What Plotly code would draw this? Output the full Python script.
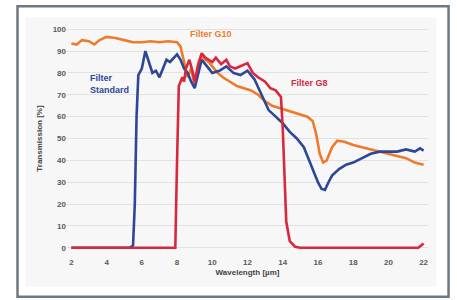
import plotly.graph_objects as go

# ---- data ----
g10_x = [2.0, 2.3, 2.6, 3.0, 3.3, 3.6, 4.0, 4.5, 5.0, 5.5, 6.0, 6.5, 7.0, 7.5, 8.0, 8.2, 8.4, 8.6, 8.8,
         9.0, 9.2, 9.4, 9.6, 9.8, 10.0, 10.3, 10.6, 11.0, 11.4, 11.8, 12.2, 12.6, 13.0, 13.4, 13.8,
         14.2, 14.6, 15.0, 15.4, 15.7, 15.9, 16.1, 16.3, 16.5, 16.8, 17.1, 17.5, 18.0, 18.5, 19.0,
         19.5, 20.0, 20.5, 21.0, 21.5, 22.0]
g10_y = [93.5, 93, 95, 94.5, 93, 95, 96.5, 96, 95, 94, 94, 94.5, 94, 94.5, 94, 92, 85, 78, 82,
         74, 82, 88, 86, 85, 83, 80, 78, 76, 74, 73, 72, 70, 67, 65, 64,
         63, 62, 61, 60, 58, 52, 43, 39, 40, 46, 49, 48.5, 47, 46, 45,
         44, 43, 42, 41, 39, 38]

std_x = [2.0, 5.3, 5.5, 5.6, 5.7, 5.8, 6.0, 6.2, 6.4, 6.6, 6.8, 7.0, 7.2, 7.4, 7.6, 7.8, 8.0, 8.2, 8.4,
         8.6, 8.8, 9.0, 9.2, 9.4, 9.6, 9.8, 10.0, 10.4, 10.8, 11.2, 11.6, 12.0, 12.4, 12.8, 13.2,
         13.6, 14.0, 14.4, 14.8, 15.2, 15.6, 16.0, 16.2, 16.4, 16.6, 16.8, 17.2, 17.6, 18.0, 18.5,
         19.0, 19.5, 20.0, 20.5, 21.0, 21.5, 21.8, 22.0]
std_y = [0, 0, 1, 20, 60, 79, 82, 90, 85, 80, 81, 78, 82, 86, 85, 87, 88.5, 86, 82,
         80, 76, 73, 80, 86, 84, 82, 80, 81, 83, 80, 79, 81, 77, 70, 63,
         60, 57, 53, 50, 46, 38, 30, 27, 26.5, 30, 33, 36, 38, 39, 41,
         43, 44, 44, 44, 45, 44, 45.5, 44.5]

g8_x = [2.0, 7.9, 8.0, 8.1, 8.3, 8.4, 8.5, 8.7, 8.9, 9.0, 9.2, 9.4, 9.6, 9.8, 10.0, 10.2, 10.5, 10.8,
        11.0, 11.3, 11.6, 12.0, 12.3, 12.6, 13.0, 13.3, 13.6, 13.9, 14.0, 14.1, 14.2, 14.4, 14.7,
        15.0, 21.7, 22.0]
g8_y = [0, 0, 40, 74, 78, 76, 82, 86, 80, 76, 84, 89, 87, 86, 85, 87, 84, 86,
        83, 82, 83, 84.5, 80, 78, 76, 73, 72, 69, 55, 30, 12, 3, 0.5,
        0, 0, 2]

x_ticks = list(range(2, 23, 2))
y_ticks = list(range(0, 101, 10))

labels = [("Filter G10", 8.6, 98), ("Filter G8", 14.35, 75.5), ("Filter<br>Standard", 2.95, 75)]

ORANGE = "#ee7a2c"
BLUE = "#2c4797"
RED = "#d8283d"

W, H = 457, 300
L_PX, R_PX, T_PX, B_PX = 66.6, 428.4, 26.8, 250.2  # plot area in pixels

fig = go.Figure()
fig.add_trace(go.Scatter(x=g10_x, y=g10_y, mode="lines", line=dict(color=ORANGE, width=2.6), name="Filter G10"))
fig.add_trace(go.Scatter(x=std_x, y=std_y, mode="lines", line=dict(color=BLUE, width=2.6), name="Filter Standard"))
fig.add_trace(go.Scatter(x=g8_x, y=g8_y, mode="lines", line=dict(color=RED, width=2.6), name="Filter G8"))

label_colors = [ORANGE, RED, BLUE]
for (txt, lx, ly), c in zip(labels, label_colors):
    fig.add_annotation(x=lx, y=ly, text="<b>" + txt + "</b>", showarrow=False,
                       font=dict(family="Liberation Sans", size=9, color=c), align="left",
                       xanchor="left")

def px2paper_x(p):
    return (p - L_PX) / (R_PX - L_PX)

def px2paper_y(p):
    return (B_PX - p) / (B_PX - T_PX)

# outer frame and inner panel
fig.add_shape(type="rect", xref="paper", yref="paper",
              x0=px2paper_x(17), x1=px2paper_x(449), y0=px2paper_y(297), y1=px2paper_y(6),
              line=dict(color="#6e7883", width=2.5), fillcolor="white", layer="below")
fig.add_shape(type="rect", xref="paper", yref="paper",
              x0=px2paper_x(25), x1=px2paper_x(437), y0=px2paper_y(287), y1=px2paper_y(17),
              line=dict(width=0), fillcolor="#f7f7f7", layer="below")

fig.update_layout(
    width=W, height=H,
    margin=dict(l=L_PX, r=W - R_PX, t=T_PX, b=H - B_PX, autoexpand=False),
    paper_bgcolor="white", plot_bgcolor="rgba(0,0,0,0)",
    showlegend=False,
    font=dict(family="Liberation Sans", size=8, color="#555555"),
)
fig.update_xaxes(range=[1.75, 22.25], tickvals=x_ticks, ticktext=["<b>%d</b>" % t for t in x_ticks],
                 showgrid=False, zeroline=False, showline=False, ticks="", ticklabelstandoff=6,
                 tickfont=dict(size=8, color="#5a5a5a"),
                 title=dict(text="<b>Wavelength [µm]</b>", font=dict(size=8, color="#444444"), standoff=3))
fig.update_yaxes(range=[-1, 101], tickvals=y_ticks, ticktext=["<b>%d</b>" % t for t in y_ticks],
                 showgrid=True, gridcolor="#e2e2e2", gridwidth=1, zeroline=False, showline=False, ticks="",
                 tickfont=dict(size=8, color="#5a5a5a"),
                 title=dict(text="<b>Transmission [%]</b>", font=dict(size=8, color="#444444"), standoff=8))

fig.write_html("out.html", config={"displayModeBar": False},
               post_script="document.body.style.margin='0';document.body.style.overflow='hidden';")
